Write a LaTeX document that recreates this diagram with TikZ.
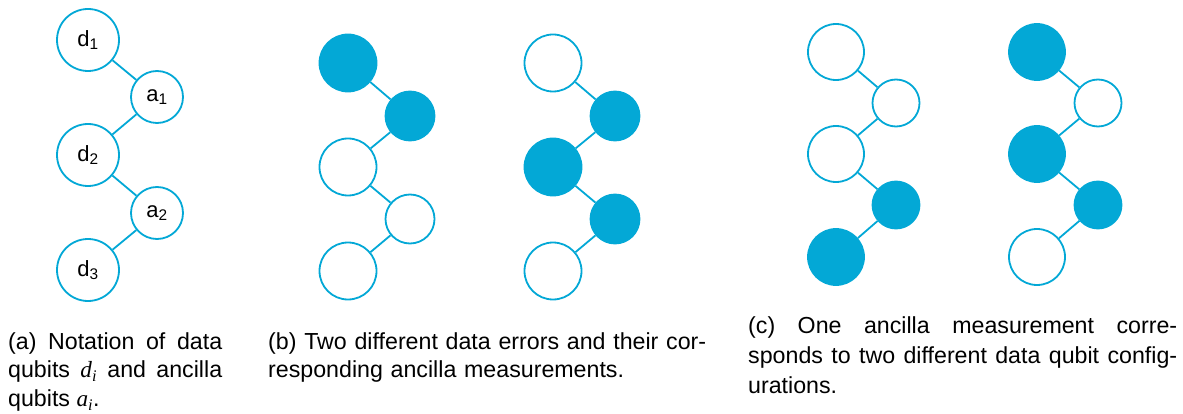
\documentclass[tikz,border=0pt]{standalone}
\usepackage{fontspec}
\setmainfont{Liberation Sans}
\newfontfamily\varfont{Liberation Serif}
\definecolor{qblue}{RGB}{3,168,214}
\tikzset{
  dq/.style={circle, draw=qblue, line width=1.8pt, minimum size=57pt, inner sep=0pt, fill=white, font=\fontsize{22}{26}\selectfont},
  aq/.style={circle, draw=qblue, line width=1.8pt, minimum size=49pt, inner sep=0pt, fill=white, font=\fontsize{22}{26}\selectfont},
  on/.style={fill=qblue},
  link/.style={draw=qblue, line width=1.8pt},
  captext/.style={anchor=north west, inner sep=0pt, align=justify, font=\fontsize{23.2}{28.8}\selectfont}
}
\newcommand{\qlab}[2]{#1\textsubscript{#2}}
\newcommand{\qvar}[1]{{\varfont\itshape #1}\textsubscript{\varfont\itshape i}}
\begin{document}
\begin{tikzpicture}[x=1pt,y=-1pt]
\useasboundingbox (0,0) rectangle (1183,414);

% (a) labelled chain
\node[dq, minimum size=62pt] (ad1) at (88,40)  {\qlab{d}{1}};
\node[aq, minimum size=52pt] (aa1) at (157,97) {\qlab{a}{1}};
\node[dq, minimum size=62pt] (ad2) at (88,155) {\qlab{d}{2}};
\node[aq, minimum size=52pt] (aa2) at (157,213) {\qlab{a}{2}};
\node[dq, minimum size=62pt] (ad3) at (88,270) {\qlab{d}{3}};
\draw[link] (ad1) -- (aa1) -- (ad2) -- (aa2) -- (ad3);

% (b) first error
\node[dq, on] (b1d1) at (348,63)  {};
\node[aq, on] (b1a1) at (410,116) {};
\node[dq]     (b1d2) at (348,167) {};
\node[aq]     (b1a2) at (410,219) {};
\node[dq]     (b1d3) at (348,271) {};
\draw[link] (b1d1) -- (b1a1) -- (b1d2) -- (b1a2) -- (b1d3);

% (b) second error
\node[dq]     (b2d1) at (553,63)  {};
\node[aq, on] (b2a1) at (615,116) {};
\node[dq, on] (b2d2) at (553,167) {};
\node[aq, on] (b2a2) at (615,219) {};
\node[dq]     (b2d3) at (553,271) {};
\draw[link] (b2d1) -- (b2a1) -- (b2d2) -- (b2a2) -- (b2d3);

% (c) first configuration
\node[dq, minimum size=56pt] (c1d1) at (836,52)  {};
\node[aq, minimum size=47pt] (c1a1) at (896,103) {};
\node[dq, minimum size=56pt] (c1d2) at (836,154) {};
\node[aq, minimum size=47pt, on] (c1a2) at (896,205) {};
\node[dq, minimum size=56pt, on] (c1d3) at (836,257) {};
\draw[link] (c1d1) -- (c1a1) -- (c1d2) -- (c1a2) -- (c1d3);

% (c) second configuration
\node[dq, minimum size=56pt, on] (c2d1) at (1037,52)  {};
\node[aq, minimum size=47pt] (c2a1) at (1098,103) {};
\node[dq, minimum size=56pt, on] (c2d2) at (1037,154) {};
\node[aq, minimum size=47pt, on] (c2a2) at (1098,205) {};
\node[dq, minimum size=56pt] (c2d3) at (1037,257) {};
\draw[link] (c2d1) -- (c2a1) -- (c2d2) -- (c2a2) -- (c2d3);

% captions
\node[captext, text width=214pt] (capa) at (8,332)
  {(a) Notation of data\linebreak qubits \qvar{d} and ancilla\linebreak qubits \qvar{a}.};
\node[captext, text width=445pt, align=left] (capb) at (268,332)
  {(b) Two different data errors and their cor-\\responding ancilla measurements.};
\node[captext, text width=429pt, font=\fontsize{23.2}{30}\selectfont] (capc) at (748,316)
  {(c) One ancilla measurement corre-\linebreak sponds to two different data qubit config-\linebreak urations.};
\end{tikzpicture}
\end{document}
